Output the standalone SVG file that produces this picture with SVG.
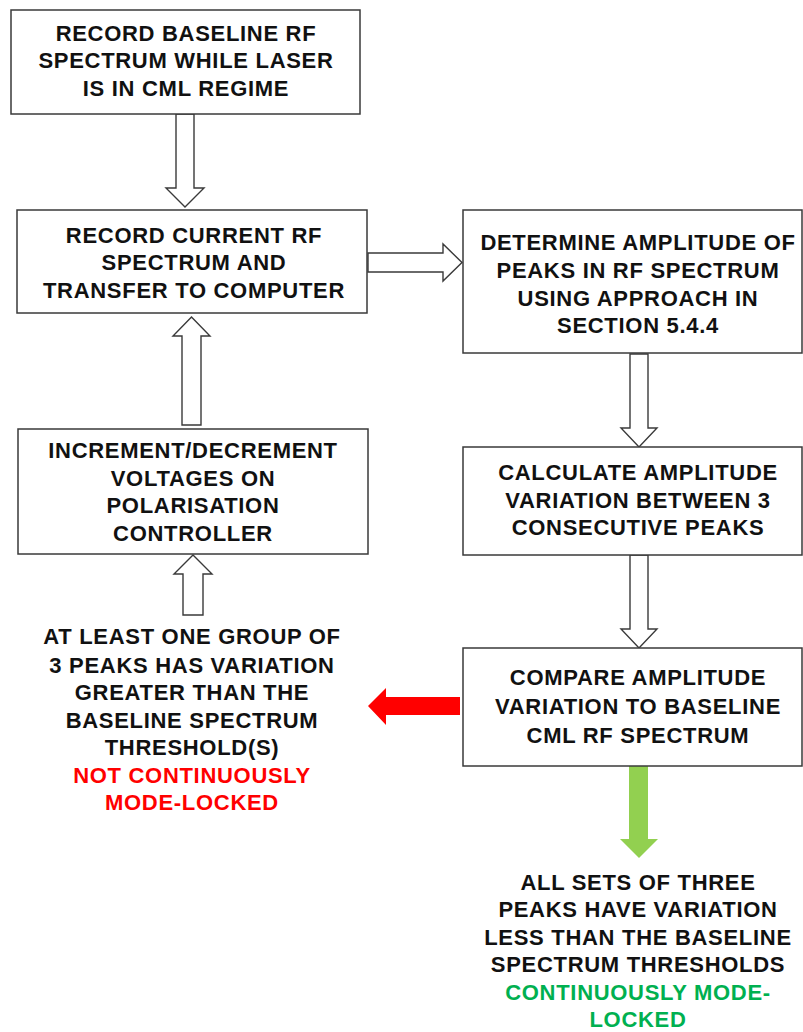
<svg xmlns="http://www.w3.org/2000/svg" width="803" height="1032" viewBox="0 0 803 1032">
  <style>
    .box { fill: #ffffff; stroke: #3a3a3a; stroke-width: 1.5; }
    .hollow { fill: #ffffff; stroke: #3a3a3a; stroke-width: 1.4; stroke-linejoin: miter; }
    .lbl { font-family: "Liberation Sans", Arial, sans-serif; font-weight: bold; font-size: 22px; letter-spacing: 0.7px; fill: #111111; text-anchor: middle; }
    .bad { fill: #ff0000; }
    .good { fill: #00b050; }
  </style>
  <rect width="803" height="1032" fill="#ffffff"/>

  <!-- connectors -->
  <g id="connectors">
    <!-- baseline -> current spectrum -->
    <polygon class="hollow" points="176,114 194,114 194,188 204,188 185,207 166,188 176,188"/>
    <!-- current spectrum -> determine amplitude -->
    <polygon class="hollow" points="368,253 443,253 443,244 462,262.5 443,281 443,272 368,272"/>
    <!-- determine amplitude -> calculate variation -->
    <polygon class="hollow" points="630,354 648,354 648,428 657,428 639,447 621,428 630,428"/>
    <!-- calculate variation -> compare -->
    <polygon class="hollow" points="630,555 648,555 648,629 657,629 639,648 621,629 630,629"/>
    <!-- increment -> current spectrum -->
    <polygon class="hollow" points="182,425 201,425 201,336 210,336 191.5,317 173,336 182,336"/>
    <!-- not locked -> increment -->
    <polygon class="hollow" points="183,615 203,615 203,574 212,574 193,555 174,574 183,574"/>
    <!-- compare -> not locked (red) -->
    <polygon fill="#ff0000" points="460,697 386,697 386,688 368,706 386,725 386,715 460,715"/>
    <!-- compare -> locked (green) -->
    <polygon fill="#92d050" points="629,766 648,766 648,839 658,839 639,858 620,839 629,839"/>
  </g>

  <g id="record-baseline">
    <rect class="box" x="11" y="10" width="349" height="104"/>
    <text class="lbl" x="186" y="41">RECORD BASELINE RF</text>
    <text class="lbl" x="186" y="68">SPECTRUM WHILE LASER</text>
    <text class="lbl" x="186" y="96">IS IN CML REGIME</text>
  </g>

  <g id="record-current">
    <rect class="box" x="17" y="210" width="350" height="103"/>
    <text class="lbl" x="194" y="243">RECORD CURRENT RF</text>
    <text class="lbl" x="194" y="270">SPECTRUM AND</text>
    <text class="lbl" x="194" y="298">TRANSFER TO COMPUTER</text>
  </g>

  <g id="determine-amplitude">
    <rect class="box" x="463" y="210" width="339" height="143"/>
    <text class="lbl" x="638" y="250">DETERMINE AMPLITUDE OF</text>
    <text class="lbl" x="638" y="278">PEAKS IN RF SPECTRUM</text>
    <text class="lbl" x="638" y="306">USING APPROACH IN</text>
    <text class="lbl" x="638" y="333">SECTION 5.4.4</text>
  </g>

  <g id="calculate-variation">
    <rect class="box" x="463" y="447" width="339" height="108"/>
    <text class="lbl" x="638" y="480">CALCULATE AMPLITUDE</text>
    <text class="lbl" x="638" y="508">VARIATION BETWEEN 3</text>
    <text class="lbl" x="638" y="535">CONSECUTIVE PEAKS</text>
  </g>

  <g id="compare-baseline">
    <rect class="box" x="463" y="648" width="339" height="118"/>
    <text class="lbl" x="638" y="685">COMPARE AMPLITUDE</text>
    <text class="lbl" x="638" y="714">VARIATION TO BASELINE</text>
    <text class="lbl" x="638" y="743">CML RF SPECTRUM</text>
  </g>

  <g id="increment-voltages">
    <rect class="box" x="18" y="429" width="350" height="125"/>
    <text class="lbl" x="193" y="458">INCREMENT/DECREMENT</text>
    <text class="lbl" x="193" y="486">VOLTAGES ON</text>
    <text class="lbl" x="193" y="513">POLARISATION</text>
    <text class="lbl" x="193" y="541">CONTROLLER</text>
  </g>

  <g id="not-locked">
    <text class="lbl" x="192" y="644">AT LEAST ONE GROUP OF</text>
    <text class="lbl" x="192" y="673">3 PEAKS HAS VARIATION</text>
    <text class="lbl" x="192" y="700">GREATER THAN THE</text>
    <text class="lbl" x="192" y="728">BASELINE SPECTRUM</text>
    <text class="lbl" x="192" y="755">THRESHOLD(S)</text>
    <text class="lbl bad" x="192" y="783">NOT CONTINUOUSLY</text>
    <text class="lbl bad" x="192" y="810">MODE-LOCKED</text>
  </g>

  <g id="locked">
    <text class="lbl" x="638" y="890">ALL SETS OF THREE</text>
    <text class="lbl" x="638" y="917">PEAKS HAVE VARIATION</text>
    <text class="lbl" x="638" y="945">LESS THAN THE BASELINE</text>
    <text class="lbl" x="638" y="972">SPECTRUM THRESHOLDS</text>
    <text class="lbl good" x="638" y="1000">CONTINUOUSLY MODE-</text>
    <text class="lbl good" x="638" y="1027">LOCKED</text>
  </g>
</svg>
